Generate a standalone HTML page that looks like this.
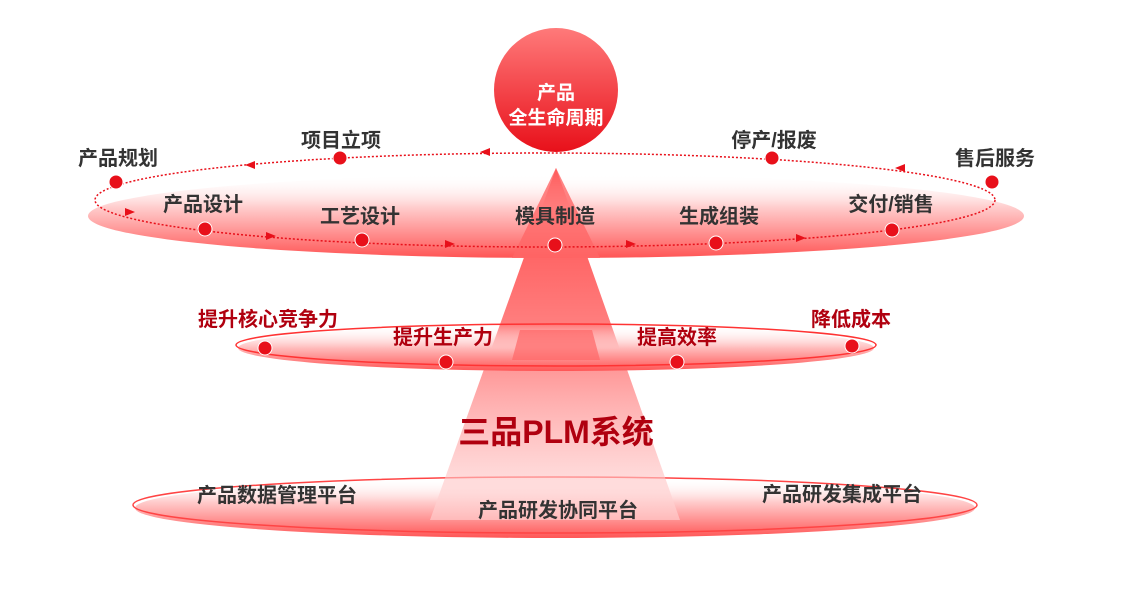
<!DOCTYPE html>
<html><head><meta charset="utf-8"><style>
body{margin:0;background:#fff;}
svg{display:block;font-family:"Liberation Sans","Noto Sans CJK SC",sans-serif;font-weight:bold;}
</style></head><body>
<svg width="1132" height="589" viewBox="0 0 1132 589">
<defs>
<linearGradient id="disk" x1="0" y1="0" x2="0" y2="1">
<stop offset="0" stop-color="#fff" stop-opacity="0"/><stop offset="0.4" stop-color="#fcc"/><stop offset="1" stop-color="#f55"/></linearGradient>
<linearGradient id="cone" x1="0" y1="0" x2="0" y2="1">
<stop offset="0" stop-color="#f33"/><stop offset="0.5" stop-color="#f77"/><stop offset="1" stop-color="#fdd" stop-opacity="0.6"/></linearGradient>
<linearGradient id="circ" x1="0" y1="0" x2="0" y2="1">
<stop offset="0" stop-color="#ff7a7a"/><stop offset="1" stop-color="#e8101a"/></linearGradient>
<linearGradient id="mid" x1="0" y1="0" x2="0" y2="1">
<stop offset="0" stop-color="#fff" stop-opacity="0"/><stop offset="0.5" stop-color="#fbb"/><stop offset="1" stop-color="#f55"/></linearGradient>
</defs>
<ellipse cx="555" cy="508" rx="420" ry="30" fill="url(#disk)"/>
<ellipse cx="555" cy="505" rx="422" ry="28" fill="none" stroke="#f44" stroke-width="1.5"/>
<polygon points="556,168 680,520 430,520" fill="url(#cone)" opacity="0.9"/>
<ellipse cx="556" cy="348" rx="318" ry="23" fill="url(#mid)"/>
<ellipse cx="556" cy="345" rx="320" ry="21" fill="none" stroke="#f33" stroke-width="1.5"/>
<polygon points="520,330 592,330 600,360 512,360" fill="#f66" opacity="0.7"/>
<ellipse cx="556" cy="216" rx="468" ry="42" fill="url(#disk)"/>
<polygon points="556,168 600,258 512,258" fill="#f66" opacity="0.8"/>
<ellipse cx="545" cy="200" rx="450" ry="47" fill="none" stroke="#e8101a" stroke-width="1.5" stroke-dasharray="2,2"/>
<g fill="#e8101a">
<polygon points="480,152 490,148 490,156"/><polygon points="245,165 255,161 255,169"/>
<polygon points="895,168 905,164 905,172"/>
<polygon points="135,212 125,208 125,216"/><polygon points="276,236 266,232 266,240"/>
<polygon points="455,244 445,240 445,248"/><polygon points="636,244 626,240 626,248"/><polygon points="806,238 796,234 796,242"/>
</g>
<g fill="#e8101a" stroke="#fff" stroke-width="1">
<circle cx="116" cy="182" r="7"/><circle cx="340" cy="158" r="7"/><circle cx="772" cy="158" r="7"/><circle cx="992" cy="182" r="7"/>
<circle cx="205" cy="229" r="7"/><circle cx="362" cy="240" r="7"/><circle cx="555" cy="245" r="7"/><circle cx="716" cy="243" r="7"/><circle cx="892" cy="230" r="7"/>
<circle cx="265" cy="348" r="7"/><circle cx="446" cy="362" r="7"/><circle cx="677" cy="362" r="7"/><circle cx="852" cy="346" r="7"/>
</g>
<circle cx="556" cy="90" r="62" fill="url(#circ)"/>
<text x="556" y="99" font-size="19" fill="#fff" text-anchor="middle">产品</text>
<text x="556" y="124" font-size="19" fill="#fff" text-anchor="middle">全生命周期</text>
<g font-size="20" fill="#333" text-anchor="middle">
<text x="118" y="165">产品规划</text><text x="341" y="147">项目立项</text><text x="774" y="147">停产/报废</text><text x="995" y="165">售后服务</text>
<text x="203" y="211">产品设计</text><text x="360" y="223">工艺设计</text><text x="555" y="223">模具制造</text><text x="719" y="223">生成组装</text><text x="891" y="211">交付/销售</text>
<text x="277" y="502">产品数据管理平台</text><text x="558" y="517">产品研发协同平台</text><text x="842" y="501">产品研发集成平台</text>
</g>
<g font-size="20" fill="#b0000f" text-anchor="middle">
<text x="268" y="326">提升核心竞争力</text><text x="443" y="344">提升生产力</text><text x="677" y="344">提高效率</text><text x="851" y="326">降低成本</text>
</g>
<text x="556" y="443" font-size="32" fill="#b0000f" text-anchor="middle">三品PLM系统</text>
</svg>
</body></html>
